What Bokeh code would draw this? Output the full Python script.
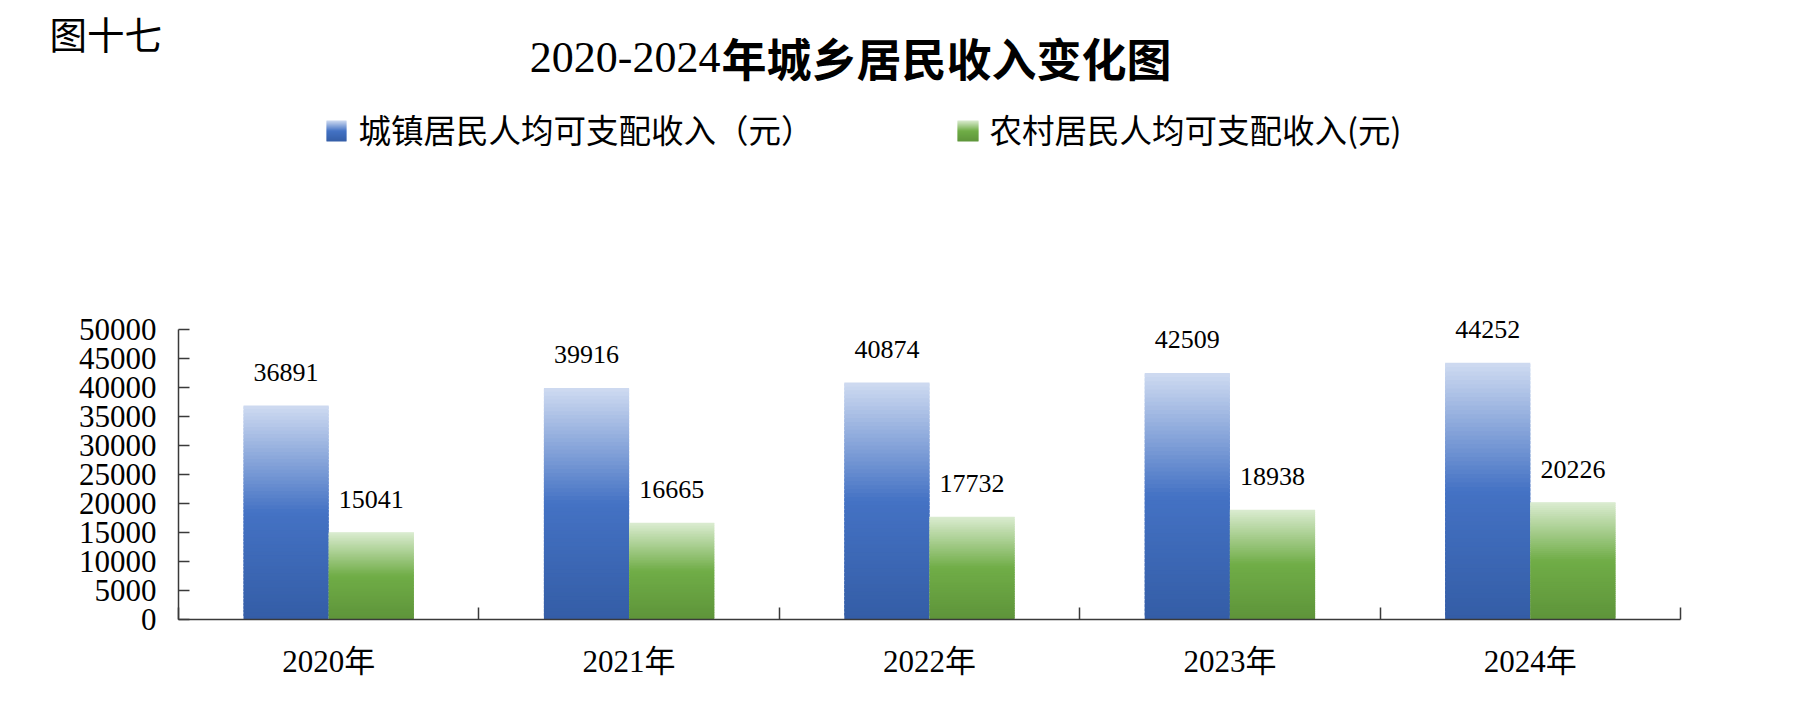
from bokeh.plotting import figure
from bokeh.layouts import column
from bokeh.models import Range1d, FixedTicker, NumeralTickFormatter, ColumnDataSource
from bokeh.core.properties import value
from bokeh.embed import file_html
from bokeh.resources import INLINE

# ---------------- data ----------------
years = ["2020年", "2021年", "2022年", "2023年", "2024年"]
urban = [36891, 39916, 40874, 42509, 44252]
rural = [15041, 16665, 17732, 18938, 20226]
y_ticks = [0, 5000, 10000, 15000, 20000, 25000, 30000, 35000, 40000, 45000, 50000]
series_names = ["城镇居民人均可支配收入（元）", "农村居民人均可支配收入(元)"]
title_num = "2020-2024"
title_cjk = "年城乡居民收入变化图"
fig_no = "图十七"

# ---------------- style ----------------
W = 1798
HH = 290            # header height
CH = 404            # chart height
ML, MR, MT, MB = 178, 118, 10, 75
BW = 0.2836
N = 60
SERIF = "Liberation Serif, Noto Sans CJK SC"
CJK = "Noto Sans CJK SC"
blue_stops = [(0.0, (207, 219, 241)), (0.5, (68, 114, 196)), (1.0, (52, 93, 166))]
green_stops = [(0.0, (219, 236, 209)), (0.5, (112, 173, 71)), (1.0, (94, 148, 58))]
AXIS = "#3a3a3a"


def grad(stops, t):
    for (p0, c0), (p1, c1) in zip(stops[:-1], stops[1:]):
        if p0 <= t <= p1:
            f = (t - p0) / (p1 - p0)
            r, g, b = (round(a + (bb - a) * f) for a, bb in zip(c0, c1))
            return "#%02x%02x%02x" % (r, g, b)
    r, g, b = stops[-1][1]
    return "#%02x%02x%02x" % (r, g, b)


# ================= header (figure number, title, legend) =================
h = figure(width=W, height=HH, output_backend="svg", toolbar_location=None,
           x_range=Range1d(0, W), y_range=Range1d(HH, 0),
           min_border=0, min_border_left=0, min_border_right=0, min_border_top=0, min_border_bottom=0)
h.frame_align = False
h.axis.visible = False
h.grid.visible = False
h.outline_line_color = None
h.background_fill_color = "white"
h.border_fill_color = "white"

h.text(x=[49], y=[31.5], text=[fig_no], text_font=value(CJK), text_font_size="37.5px",
       text_color="black", text_align="left", text_baseline="middle")
h.text(x=[720], y=[57], text=[title_num], text_font=value("Liberation Serif"), text_font_size="44px",
       text_color="black", text_align="right", text_baseline="alphabetic")
h.text(x=[721], y=[57], text=[title_cjk], text_font=value(CJK), text_font_size="45px",
       text_font_style="bold", text_color="black", text_align="left", text_baseline="alphabetic")


def legend_square(x0, y0, w, hgt, stops):
    n = 21
    left, right, top, bottom, color = [], [], [], [], []
    for k in range(n):
        left.append(x0)
        right.append(x0 + w)
        top.append(y0 + hgt * k / n)
        bottom.append(min(y0 + hgt, y0 + hgt * (k + 1.6) / n))
        color.append(grad(stops, (k + 0.5) / n))
    h.quad(left=left, right=right, top=top, bottom=bottom, fill_color=color, line_color=None)


legend_square(326, 120, 20, 21, blue_stops)
legend_square(957, 120, 21, 21, green_stops)
h.text(x=[358], y=[127.5], text=[series_names[0]], text_font=value(CJK), text_font_size="32.5px",
       text_color="black", text_align="left", text_baseline="middle")
h.text(x=[989], y=[127.5], text=[series_names[1]], text_font=value(CJK), text_font_size="32.5px",
       text_color="black", text_align="left", text_baseline="middle")

# ================= chart =================
p = figure(width=W, height=CH, output_backend="svg", toolbar_location=None,
           x_range=Range1d(-0.5, len(years) - 0.5), y_range=Range1d(0, 55000),
           min_border_left=ML, min_border_right=MR, min_border_top=MT, min_border_bottom=MB)
p.frame_align = False
p.outline_line_color = None
p.xgrid.visible = False
p.ygrid.visible = False
p.background_fill_color = "white"
p.border_fill_color = "white"


def slices(values, side, stops):
    left, right, bottom, top, color = [], [], [], [], []
    for i, v in enumerate(values):
        x0 = i - BW if side < 0 else i
        for k in range(N):
            left.append(x0)
            right.append(x0 + BW)
            bottom.append(v * k / N)
            top.append(min(v, v * (k + 1.7) / N))
            color.append(grad(stops, 1 - (k + 0.5) / N))
    return ColumnDataSource(dict(left=left, right=right, bottom=bottom, top=top, color=color))


p.quad(left="left", right="right", bottom="bottom", top="top", fill_color="color",
       line_color=None, source=slices(urban, -1, blue_stops))
p.quad(left="left", right="right", bottom="bottom", top="top", fill_color="color",
       line_color=None, source=slices(rural, 1, green_stops))

# value labels
xs = list(range(len(years)))
lab_src = ColumnDataSource(dict(
    x=[x - BW / 2 for x in xs] + [x + BW / 2 for x in xs],
    y=urban + rural,
    t=[str(v) for v in urban + rural]))
p.text(x="x", y="y", text="t", source=lab_src, text_align="center", text_baseline="alphabetic",
       y_offset=-33, text_font=value("Liberation Serif"), text_font_size="26px", text_color="black")

# axes
p.yaxis.ticker = FixedTicker(ticks=y_ticks)
p.yaxis.formatter = NumeralTickFormatter(format="0")
p.yaxis.bounds = (0, y_ticks[-1])
p.yaxis.major_tick_in = 11
p.yaxis.major_tick_out = 0
p.yaxis.minor_tick_line_color = None
p.yaxis.axis_line_color = AXIS
p.yaxis.axis_line_width = 1.5
p.yaxis.major_tick_line_color = AXIS
p.yaxis.major_tick_line_width = 1.5
p.yaxis.major_label_text_font = "Liberation Serif"
p.yaxis.major_label_text_font_size = "31px"
p.yaxis.major_label_text_color = "black"
p.yaxis.major_label_standoff = 22

p.xaxis.ticker = FixedTicker(ticks=xs, minor_ticks=[x - 0.5 for x in xs] + [len(xs) - 0.5])
p.xaxis.major_label_overrides = {i: y for i, y in enumerate(years)}
p.xaxis.major_tick_line_color = None
p.xaxis.major_tick_in = 0
p.xaxis.major_tick_out = 0
p.xaxis.minor_tick_in = 12
p.xaxis.minor_tick_out = 0
p.xaxis.minor_tick_line_color = AXIS
p.xaxis.minor_tick_line_width = 1.5
p.xaxis.axis_line_color = AXIS
p.xaxis.axis_line_width = 1.5
p.xaxis.major_label_text_font = SERIF
p.xaxis.major_label_text_font_size = "31px"
p.xaxis.major_label_text_color = "black"
p.xaxis.major_label_standoff = 24

layout = column(h, p, spacing=0)
open("out.html", "w").write(file_html(layout, INLINE))
